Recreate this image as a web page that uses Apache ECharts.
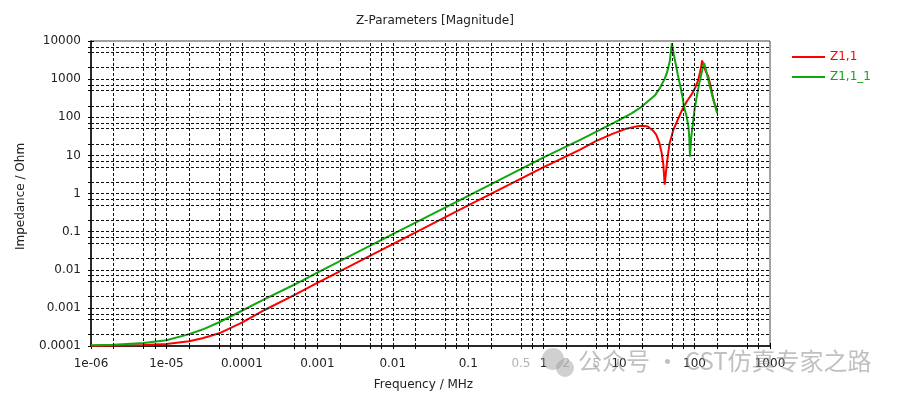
<!DOCTYPE html>
<html>
<head>
<meta charset="utf-8">
<script src="https://cdn.jsdelivr.net/npm/echarts@6/dist/echarts.min.js"></script>
<style>
  html, body { margin: 0; padding: 0; background: #fff; }
  #chart { width: 900px; height: 398px; }
</style>
</head>
<body>
<div id="chart"></div>
<script>
// frequency in MHz, impedance magnitude in Ohm
const freqZ11 = [1e-6, 2e-6, 5e-6, 1e-5, 2e-5, 3e-5, 5e-5, 1e-4, 2e-4, 5e-4, 1e-3, 0.01, 0.1, 1, 3, 5, 8, 12, 16, 20, 24, 28, 31, 34, 36.5, 38.5, 40.2, 42, 44, 46.5, 52, 59, 65, 72, 80, 90, 96, 104, 112, 118, 123, 126, 132, 140, 152, 165, 178, 200]
const magZ11 = [1.02e-4, 1.03e-4, 1.06e-4, 1.13e-4, 1.33e-4, 1.6e-4, 2.15e-4, 4.1e-4, 8.8e-4, 2.2e-3, 4.5e-3, 0.047, 0.49, 4.9, 14, 24, 36, 49, 56, 60, 57, 45, 35, 22, 12, 6, 1.7, 4, 9, 20, 45, 80, 125, 190, 270, 380, 470, 650, 960, 1500, 2300, 3080, 2300, 1650, 1180, 600, 290, 135]

const freqZ111 = [1e-6, 2e-6, 5e-6, 1e-5, 2e-5, 3e-5, 5e-5, 1e-4, 2e-4, 5e-4, 1e-3, 0.01, 0.1, 1, 3, 6, 10, 15, 20, 25, 30, 35, 40, 43, 47, 50, 53, 56, 60, 65, 70, 72, 74, 78, 83, 85, 87, 90, 94, 100, 107, 115, 124, 130, 134, 140, 148, 160, 180, 200]
const magZ111 = [1.05e-4, 1.08e-4, 1.2e-4, 1.41e-4, 2.05e-4, 2.7e-4, 4.2e-4, 8.4e-4, 1.7e-3, 4.1e-3, 8.4e-3, 0.086, 0.87, 8.9, 25, 50, 84, 130, 190, 280, 380, 600, 1000, 1450, 3000, 8800, 4500, 2600, 1300, 630, 300, 200, 180, 110, 57, 30, 9.3, 28, 57, 160, 350, 750, 1450, 2200, 2630, 1900, 1200, 630, 260, 128]

const seriesNames = ['Z1,1', 'Z1,1_1']
const seriesColors = ['#ff0000', '#10a810']

const xMajor = [1e-6, 1e-5, 1e-4, 1e-3, 0.01, 0.1, 1, 10, 100, 1000]
const xMajorLabels = ['1e-06', '1e-05', '0.0001', '0.001', '0.01', '0.1', '1', '10', '100', '1000']
const xExtraLabelValues = [0.5, 2, 5]
const xExtraLabels = ['0.5', '2', '5']
const yMajor = [1e-4, 1e-3, 0.01, 0.1, 1, 10, 100, 1000, 10000]
const yMajorLabels = ['0.0001', '0.001', '0.01', '0.1', '1', '10', '100', '1000', '10000']
const gridSteps = [2, 5, 7]

const FONT = 'DejaVu Sans'

function fix(v) { return parseFloat(v.toPrecision(6)) }

function gridValues(major) {
  const out = []
  major.forEach((d, i) => {
    if (i > 0) out.push(d)
    if (i < major.length - 1) gridSteps.forEach(m => out.push(fix(d * m)))
  })
  return out
}
const xGrid = gridValues(xMajor)
const yGrid = gridValues(yMajor)
const xTicks = [xMajor[0]].concat(xGrid)
const yTicks = [yMajor[0]].concat(yGrid)

function same(a, b) { return Math.abs(Math.log10(a) - Math.log10(b)) < 1e-6 }

function xLabel(value) {
  let i = xMajor.findIndex(v => same(v, value))
  if (i >= 0) return xMajorLabels[i]
  i = xExtraLabelValues.findIndex(v => same(v, value))
  if (i >= 0) return '{m|' + xExtraLabels[i] + '}'
  return ''
}
function yLabel(value) {
  const i = yMajor.findIndex(v => same(v, value))
  return i >= 0 ? yMajorLabels[i] : ''
}

const chart = echarts.init(document.getElementById('chart'))

const xBase = { type: 'log', logBase: 10, min: xMajor[0], max: xMajor[xMajor.length - 1], gridIndex: 0, position: 'bottom' }
const yBase = { type: 'log', logBase: 10, min: yMajor[0], max: yMajor[yMajor.length - 1], gridIndex: 0, position: 'left' }

chart.setOption({
  animation: false,
  backgroundColor: '#fff',
  textStyle: { fontFamily: FONT },
  title: {
    text: 'Z-Parameters [Magnitude]',
    left: 430, top: 10, textAlign: 'center',
    textStyle: { fontFamily: FONT, fontSize: 12, fontWeight: 'normal', color: '#222' }
  },
  legend: {
    data: seriesNames.map((n, i) => ({ name: n, textStyle: { color: seriesColors[i] } })),
    orient: 'vertical', left: 787, top: 46,
    icon: 'rect', itemWidth: 33, itemHeight: 2, itemGap: 8,
    textStyle: { fontFamily: FONT, fontSize: 12 }
  },
  grid: {
    left: 91, right: 130, top: 41, bottom: 52,
    show: true, borderColor: '#444', borderWidth: 1, backgroundColor: '#fff'
  },
  xAxis: [
    Object.assign({}, xBase, {
      name: 'Frequency / MHz', nameLocation: 'middle', nameGap: 33,
      nameTextStyle: { fontFamily: FONT, fontSize: 12, color: '#222', padding: [0, 14, 0, 0] },
      axisLine: { show: true, lineStyle: { color: '#000', width: 1.5 } },
      axisTick: { show: true, inside: false, length: 3, customValues: xTicks, lineStyle: { color: '#000' } },
      axisLabel: {
        customValues: xMajor.concat(xExtraLabelValues), formatter: xLabel, margin: 12,
        fontFamily: FONT, fontSize: 12, color: '#222',
        rich: { m: { fontFamily: FONT, fontSize: 12, color: '#b4b4b4' } }
      },
      splitLine: { show: false }
    }),
    Object.assign({}, xBase, {
      axisLine: { show: false },
      axisTick: { show: true, inside: true, length: 3, customValues: xTicks, lineStyle: { color: '#000' } },
      axisLabel: { show: false },
      splitLine: { show: false }
    })
  ],
  yAxis: [
    Object.assign({}, yBase, {
      name: 'Impedance / Ohm', nameLocation: 'middle', nameGap: 64, nameRotate: 90,
      nameTextStyle: { fontFamily: FONT, fontSize: 12, color: '#222', padding: [0, 6, 0, 0] },
      axisLine: { show: true, lineStyle: { color: '#000', width: 1.5 } },
      axisTick: { show: true, inside: false, length: 3, customValues: yTicks, lineStyle: { color: '#000' } },
      axisLabel: { customValues: yMajor, formatter: yLabel, margin: 10, fontFamily: FONT, fontSize: 12, color: '#222' },
      splitLine: { show: false }
    }),
    Object.assign({}, yBase, {
      axisLine: { show: false },
      axisTick: { show: true, inside: true, length: 3, customValues: yTicks, lineStyle: { color: '#000' } },
      axisLabel: { show: false },
      splitLine: { show: false }
    })
  ],
  graphic: [
    { type: 'circle', shape: { cx: 553, cy: 359, r: 11 }, style: { fill: 'rgba(150,150,150,0.45)' }, z: 100 },
    { type: 'circle', shape: { cx: 565, cy: 368, r: 9 }, style: { fill: 'rgba(150,150,150,0.45)' }, z: 100 },
    {
      type: 'text', left: 578, top: 349, z: 100,
      style: { text: '公众号 · CST仿真专家之路', font: '24px "Noto Sans CJK SC"', fill: 'rgba(140,140,140,0.55)' }
    }
  ],
  series: [
    {
      name: 'grid', type: 'line', z: 1, silent: true,
      data: [[xMajor[0], yMajor[0]]], showSymbol: false, lineStyle: { opacity: 0 },
      markLine: {
        silent: true, symbol: 'none', label: { show: false }, precision: 12,
        lineStyle: { color: '#111', width: 1, type: [3, 2] },
        data: xGrid.filter(v => v < xMajor[xMajor.length - 1]).map(v => ({ xAxis: v }))
          .concat(yGrid.filter(v => v < yMajor[yMajor.length - 1]).map(v => ({ yAxis: v })))
      }
    },
    {
      name: seriesNames[0], type: 'line', z: 3, showSymbol: false, symbol: 'none',
      data: freqZ11.map((f, i) => [f, magZ11[i]]),
      lineStyle: { color: seriesColors[0], width: 2 }, itemStyle: { color: seriesColors[0] }
    },
    {
      name: seriesNames[1], type: 'line', z: 4, showSymbol: false, symbol: 'none',
      data: freqZ111.map((f, i) => [f, magZ111[i]]),
      lineStyle: { color: seriesColors[1], width: 2 }, itemStyle: { color: seriesColors[1] }
    }
  ]
})
</script>
</body>
</html>
